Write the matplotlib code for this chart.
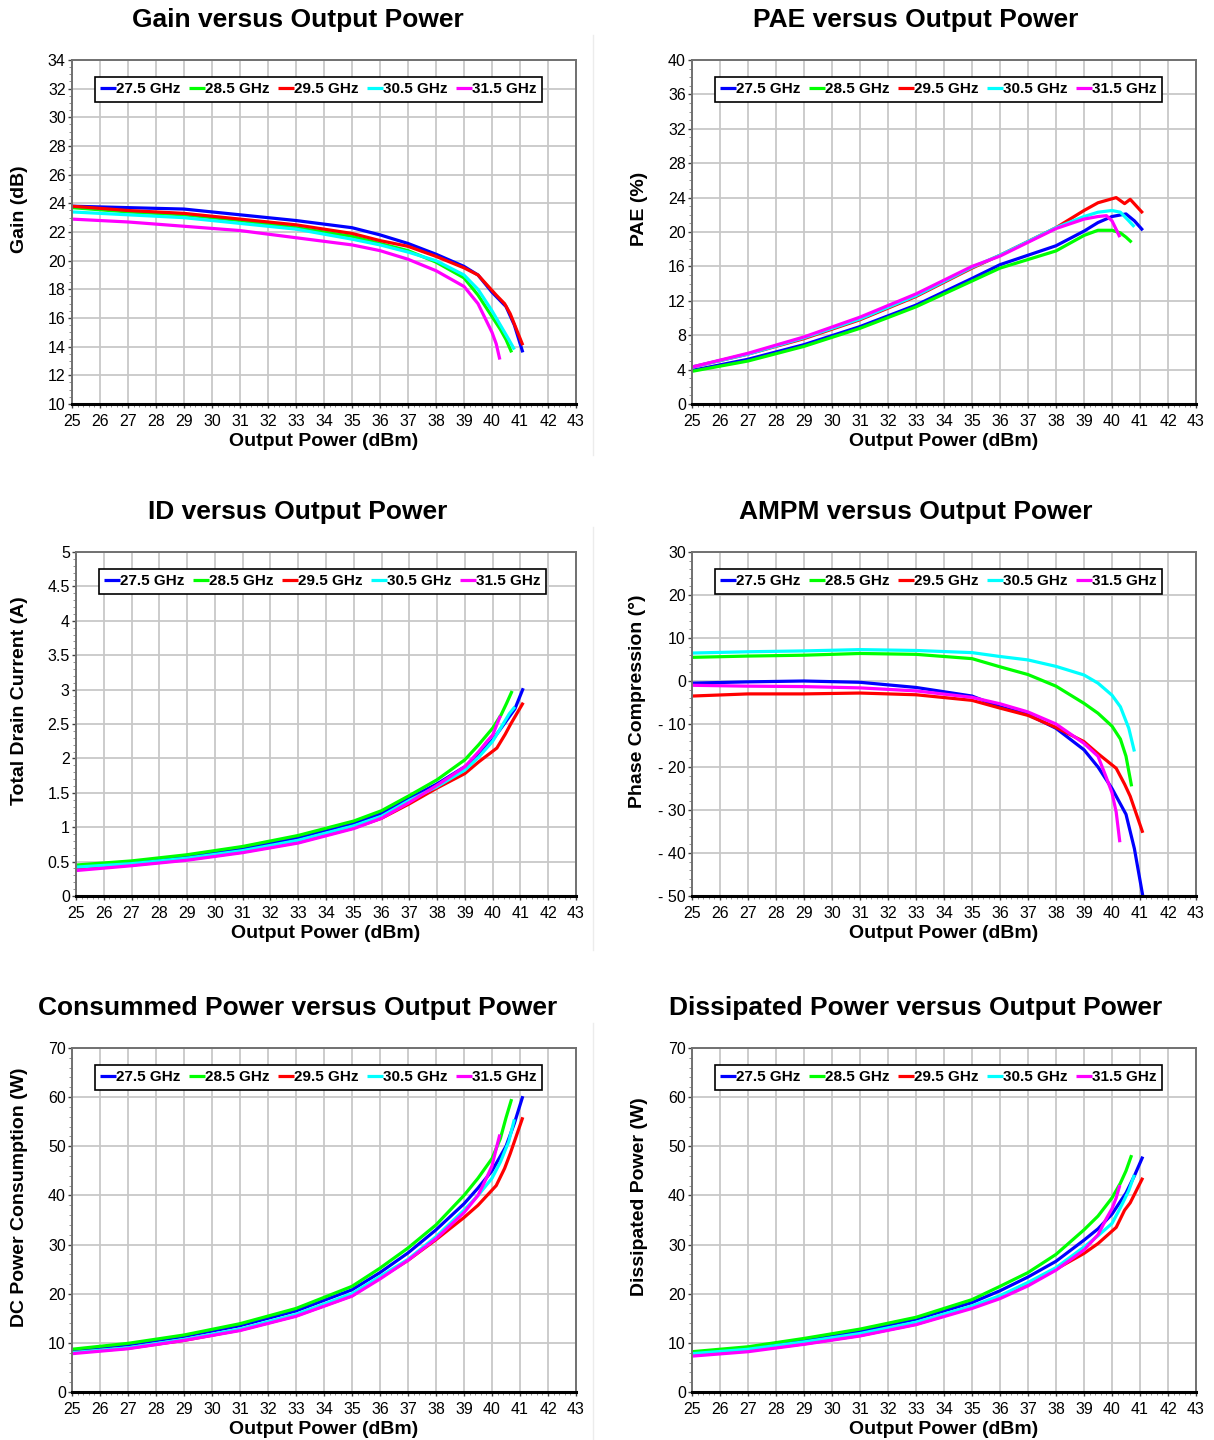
import numpy as np
import matplotlib
matplotlib.use("Agg")
import matplotlib.pyplot as plt
from matplotlib.ticker import MultipleLocator, FuncFormatter
from matplotlib.lines import Line2D

plt.rcParams['font.family'] = ['Liberation Sans', 'DejaVu Sans']

freqs = ['27.5 GHz', '28.5 GHz', '29.5 GHz', '30.5 GHz', '31.5 GHz']
colors = ['#0000ff', '#00ff00', '#ff0000', '#00ffff', '#ff00ff']

# output power points (dBm) for each frequency
x_275 = [25, 27, 29, 31, 33, 35, 36, 37, 38, 39, 39.5, 40, 40.5, 40.8, 41.1]
x_285 = [25, 27, 29, 31, 33, 35, 36, 37, 38, 39, 39.5, 40, 40.3, 40.5, 40.7]
x_295 = [25, 27, 29, 31, 33, 35, 36, 37, 38, 39, 39.5, 40.15, 40.45, 40.65, 41.1]
x_305 = [25, 27, 29, 31, 33, 35, 36, 37, 38, 39, 39.5, 40, 40.3, 40.6, 40.8]
x_315 = [25, 27, 29, 31, 33, 35, 36, 37, 38, 39, 39.5, 39.8, 40.0, 40.15, 40.28]

# gain (dB)
gain_275 = [23.8, 23.7, 23.6, 23.2, 22.8, 22.3, 21.8, 21.2, 20.45, 19.6, 19.0, 17.8, 16.8, 15.5, 13.6]
gain_285 = [23.7, 23.4, 23.2, 22.8, 22.3, 21.7, 21.2, 20.7, 19.9, 18.8, 17.6, 16.1, 15.2, 14.5, 13.6]
gain_295 = [23.8, 23.5, 23.3, 22.9, 22.5, 21.9, 21.4, 21.0, 20.3, 19.5, 19.0, 17.6, 17.0, 16.3, 14.1]
gain_305 = [23.4, 23.2, 23.0, 22.6, 22.2, 21.5, 21.1, 20.6, 20.0, 19.0, 18.0, 16.5, 15.5, 14.5, 13.8]
gain_315 = [22.9, 22.7, 22.4, 22.1, 21.6, 21.1, 20.7, 20.1, 19.3, 18.2, 17.0, 15.8, 15.0, 14.2, 13.1]

# PAE (%)
pae_275 = [3.9, 5.2, 6.9, 9.0, 11.5, 14.6, 16.2, 17.3, 18.4, 20.1, 21.1, 21.8, 22.1, 21.3, 20.2]
pae_285 = [3.8, 5.0, 6.7, 8.8, 11.3, 14.3, 15.8, 16.8, 17.8, 19.6, 20.2, 20.2, 19.9, 19.4, 18.8]
pae_295 = [4.3, 5.8, 7.6, 9.8, 12.5, 15.8, 17.3, 18.9, 20.5, 22.5, 23.4, 24.0, 23.3, 23.8, 22.2]
pae_305 = [4.3, 5.8, 7.7, 9.9, 12.6, 15.9, 17.3, 18.9, 20.5, 21.8, 22.3, 22.5, 22.3, 21.3, 20.6]
pae_315 = [4.3, 5.9, 7.8, 10.1, 12.8, 16.0, 17.2, 18.8, 20.4, 21.5, 21.8, 21.9, 21.3, 20.3, 19.4]

# total drain current (A)
id_275 = [0.42, 0.49, 0.58, 0.69, 0.85, 1.06, 1.20, 1.42, 1.63, 1.88, 2.05, 2.27, 2.55, 2.72, 3.02]
id_285 = [0.45, 0.51, 0.60, 0.72, 0.88, 1.09, 1.24, 1.46, 1.69, 1.98, 2.20, 2.44, 2.63, 2.80, 2.98]
id_295 = [0.39, 0.45, 0.53, 0.64, 0.78, 0.99, 1.13, 1.34, 1.57, 1.78, 1.95, 2.15, 2.35, 2.50, 2.81]
id_305 = [0.42, 0.47, 0.55, 0.66, 0.81, 1.02, 1.16, 1.39, 1.59, 1.83, 2.02, 2.25, 2.45, 2.65, 2.75]
id_315 = [0.37, 0.44, 0.52, 0.63, 0.77, 0.98, 1.13, 1.36, 1.61, 1.88, 2.10, 2.25, 2.34, 2.49, 2.62]

# phase compression (deg)
ampm_275 = [-0.5, -0.2, 0.0, -0.3, -1.5, -3.5, -6.0, -7.8, -11.0, -16.0, -20.0, -25.0, -31.0, -39.0, -50.0]
ampm_285 = [5.5, 5.8, 6.0, 6.4, 6.2, 5.2, 3.3, 1.5, -1.2, -5.2, -7.5, -10.5, -13.5, -17.5, -24.5]
ampm_295 = [-3.5, -3.0, -3.0, -2.8, -3.2, -4.5, -6.3, -8.0, -10.8, -14.1, -16.9, -20.3, -24.0, -26.8, -35.3]
ampm_305 = [6.5, 6.8, 7.0, 7.3, 7.1, 6.6, 5.7, 4.9, 3.4, 1.4, -0.5, -3.3, -6.0, -11.0, -16.4]
ampm_315 = [-1.0, -1.2, -1.3, -1.6, -2.3, -3.8, -5.3, -7.2, -10.0, -14.5, -17.5, -22.5, -26.0, -30.5, -37.5]

# DC power consumption (W)
pdc_275 = [8.5, 9.6, 11.3, 13.5, 16.5, 20.8, 24.3, 28.3, 33.0, 38.3, 41.5, 45.0, 50.0, 54.7, 60.2]
pdc_285 = [8.7, 9.9, 11.6, 13.9, 17.0, 21.5, 25.2, 29.3, 34.0, 40.0, 43.5, 47.5, 51.6, 55.8, 59.6]
pdc_295 = [8.0, 8.9, 10.5, 12.6, 15.5, 19.6, 23.2, 26.8, 31.0, 35.5, 38.0, 42.0, 45.5, 48.5, 55.9]
pdc_305 = [8.0, 9.0, 10.7, 12.8, 15.8, 20.0, 23.5, 27.0, 31.6, 37.0, 40.0, 43.5, 46.8, 51.0, 55.5]
pdc_315 = [7.8, 8.8, 10.5, 12.5, 15.4, 19.5, 23.0, 26.8, 31.2, 36.5, 40.0, 43.5, 46.0, 49.5, 52.4]

# dissipated power (W)
pdis_275 = [8.0, 9.0, 10.6, 12.4, 14.8, 18.2, 20.6, 23.4, 26.6, 30.9, 33.2, 36.2, 40.5, 44.0, 47.9]
pdis_285 = [8.2, 9.2, 10.9, 12.8, 15.2, 18.8, 21.5, 24.3, 28.0, 33.0, 35.8, 39.5, 42.5, 45.0, 48.2]
pdis_295 = [7.5, 8.4, 9.8, 11.5, 13.8, 17.2, 19.4, 22.0, 25.0, 28.2, 30.2, 33.5, 37.0, 38.5, 43.6]
pdis_305 = [7.8, 8.7, 10.2, 11.9, 14.2, 17.5, 19.6, 22.3, 25.3, 29.5, 31.8, 34.3, 37.5, 41.0, 44.2]
pdis_315 = [7.3, 8.2, 9.7, 11.4, 13.7, 17.0, 19.0, 21.6, 24.8, 28.9, 32.0, 35.3, 37.3, 39.5, 42.1]

xs = [x_275, x_285, x_295, x_305, x_315]

fig = plt.figure(figsize=(12.14, 14.4), dpi=100)

W, H = 1214.0, 1440.0

def make_ax(left, top, right, bottom):
    return fig.add_axes([left / W, 1 - bottom / H, (right - left) / W, (bottom - top) / H])

def style(ax, ylim, ymaj, ymin, ylabel, title, tx, ty, ylab_px, fmt=None):
    ax.set_xlim(25, 43)
    ax.set_ylim(*ylim)
    ax.xaxis.set_major_locator(MultipleLocator(1))
    ax.xaxis.set_minor_locator(MultipleLocator(0.2))
    ax.yaxis.set_major_locator(MultipleLocator(ymaj))
    ax.yaxis.set_minor_locator(MultipleLocator(ymin))
    if fmt is not None:
        ax.yaxis.set_major_formatter(FuncFormatter(fmt))
    ax.grid(True, which='major', color='#c8c8c8', lw=1.3)
    ax.set_axisbelow(True)
    ax.tick_params(axis='x', which='major', length=3, width=1, color='#404040',
                   labelsize=11.5, pad=4.5)
    ax.tick_params(axis='y', which='major', length=3, width=1, color='#404040',
                   labelsize=11.5, pad=1.5)
    ax.tick_params(which='minor', length=2, width=0.6, color='#808080')
    for s in ['top', 'right', 'left']:
        ax.spines[s].set_color('#707070')
        ax.spines[s].set_linewidth(1.4)
    ax.spines['bottom'].set_color('black')
    ax.spines['bottom'].set_linewidth(2.2)

    # axis labels placed at measured pixel positions
    bb = ax.get_position()
    left_px = bb.x0 * W
    width_px = bb.width * W
    height_px = bb.height * H
    ax.set_xlabel('Output Power (dBm)', fontsize=14, fontweight='bold')
    ax.xaxis.set_label_coords(0.5, -38.0 / height_px)
    ax.xaxis.label.set_va('center')
    ax.set_ylabel(ylabel, fontsize=14, fontweight='bold')
    ax.yaxis.set_label_coords((ylab_px - left_px) / width_px, 0.567)
    ax.yaxis.label.set_va('center')

    fig.text(tx / W, 1 - ty / H, title, fontsize=19, fontweight='bold',
             ha='center', va='center')
    leg = ax.legend(loc='upper left', bbox_to_anchor=(0.0456, 0.9506), ncol=5,
                    prop={'weight': 'bold', 'size': 11},
                    handlelength=1.05, handletextpad=0.0, columnspacing=0.55,
                    borderpad=0.35, borderaxespad=0.0, fancybox=False,
                    edgecolor='black', framealpha=1)
    leg.get_frame().set_linewidth(1.2)

def draw(ax, series):
    for x, y, c, lab in zip(xs, series, colors, freqs):
        ax.plot(x, y, color=c, lw=2.3, label=lab, solid_capstyle='butt')

def fmt_g(v, pos):
    return '%g' % v

def fmt_neg(v, pos):
    if v < 0:
        return '- %g' % abs(v)
    return '%g' % v

ax1 = make_ax(72, 60, 576, 404)
draw(ax1, [gain_275, gain_285, gain_295, gain_305, gain_315])
style(ax1, (10, 34), 2, 0.5, 'Gain (dB)', 'Gain versus Output Power', 298, 20, 20)

ax2 = make_ax(692, 60, 1196, 404)
draw(ax2, [pae_275, pae_285, pae_295, pae_305, pae_315])
style(ax2, (0, 40), 4, 1, 'PAE (%)', 'PAE versus Output Power', 916, 20, 640)

ax3 = make_ax(76, 552, 576, 896)
draw(ax3, [id_275, id_285, id_295, id_305, id_315])
style(ax3, (0, 5), 0.5, 0.1, 'Total Drain Current (A)', 'ID versus Output Power',
      298, 512, 20, fmt_g)

ax4 = make_ax(692, 552, 1196, 896)
draw(ax4, [ampm_275, ampm_285, ampm_295, ampm_305, ampm_315])
style(ax4, (-50, 30), 10, 2, 'Phase Compression (°)', 'AMPM versus Output Power',
      916, 512, 638, fmt_neg)

ax5 = make_ax(72, 1048, 576, 1392)
draw(ax5, [pdc_275, pdc_285, pdc_295, pdc_305, pdc_315])
style(ax5, (0, 70), 10, 2, 'DC Power Consumption (W)', 'Consummed Power versus Output Power',
      298, 1008, 20)

ax6 = make_ax(692, 1048, 1196, 1392)
draw(ax6, [pdis_275, pdis_285, pdis_295, pdis_305, pdis_315])
style(ax6, (0, 70), 10, 2, 'Dissipated Power (W)', 'Dissipated Power versus Output Power',
      916, 1008, 640)

# faint panel separators
for y0, y1 in [(35, 455), (527, 950), (1023, 1440)]:
    fig.add_artist(Line2D([593 / W, 593 / W], [1 - y0 / H, 1 - y1 / H],
                          color='#ececec', lw=1))

fig.savefig('out.png', dpi=100)
